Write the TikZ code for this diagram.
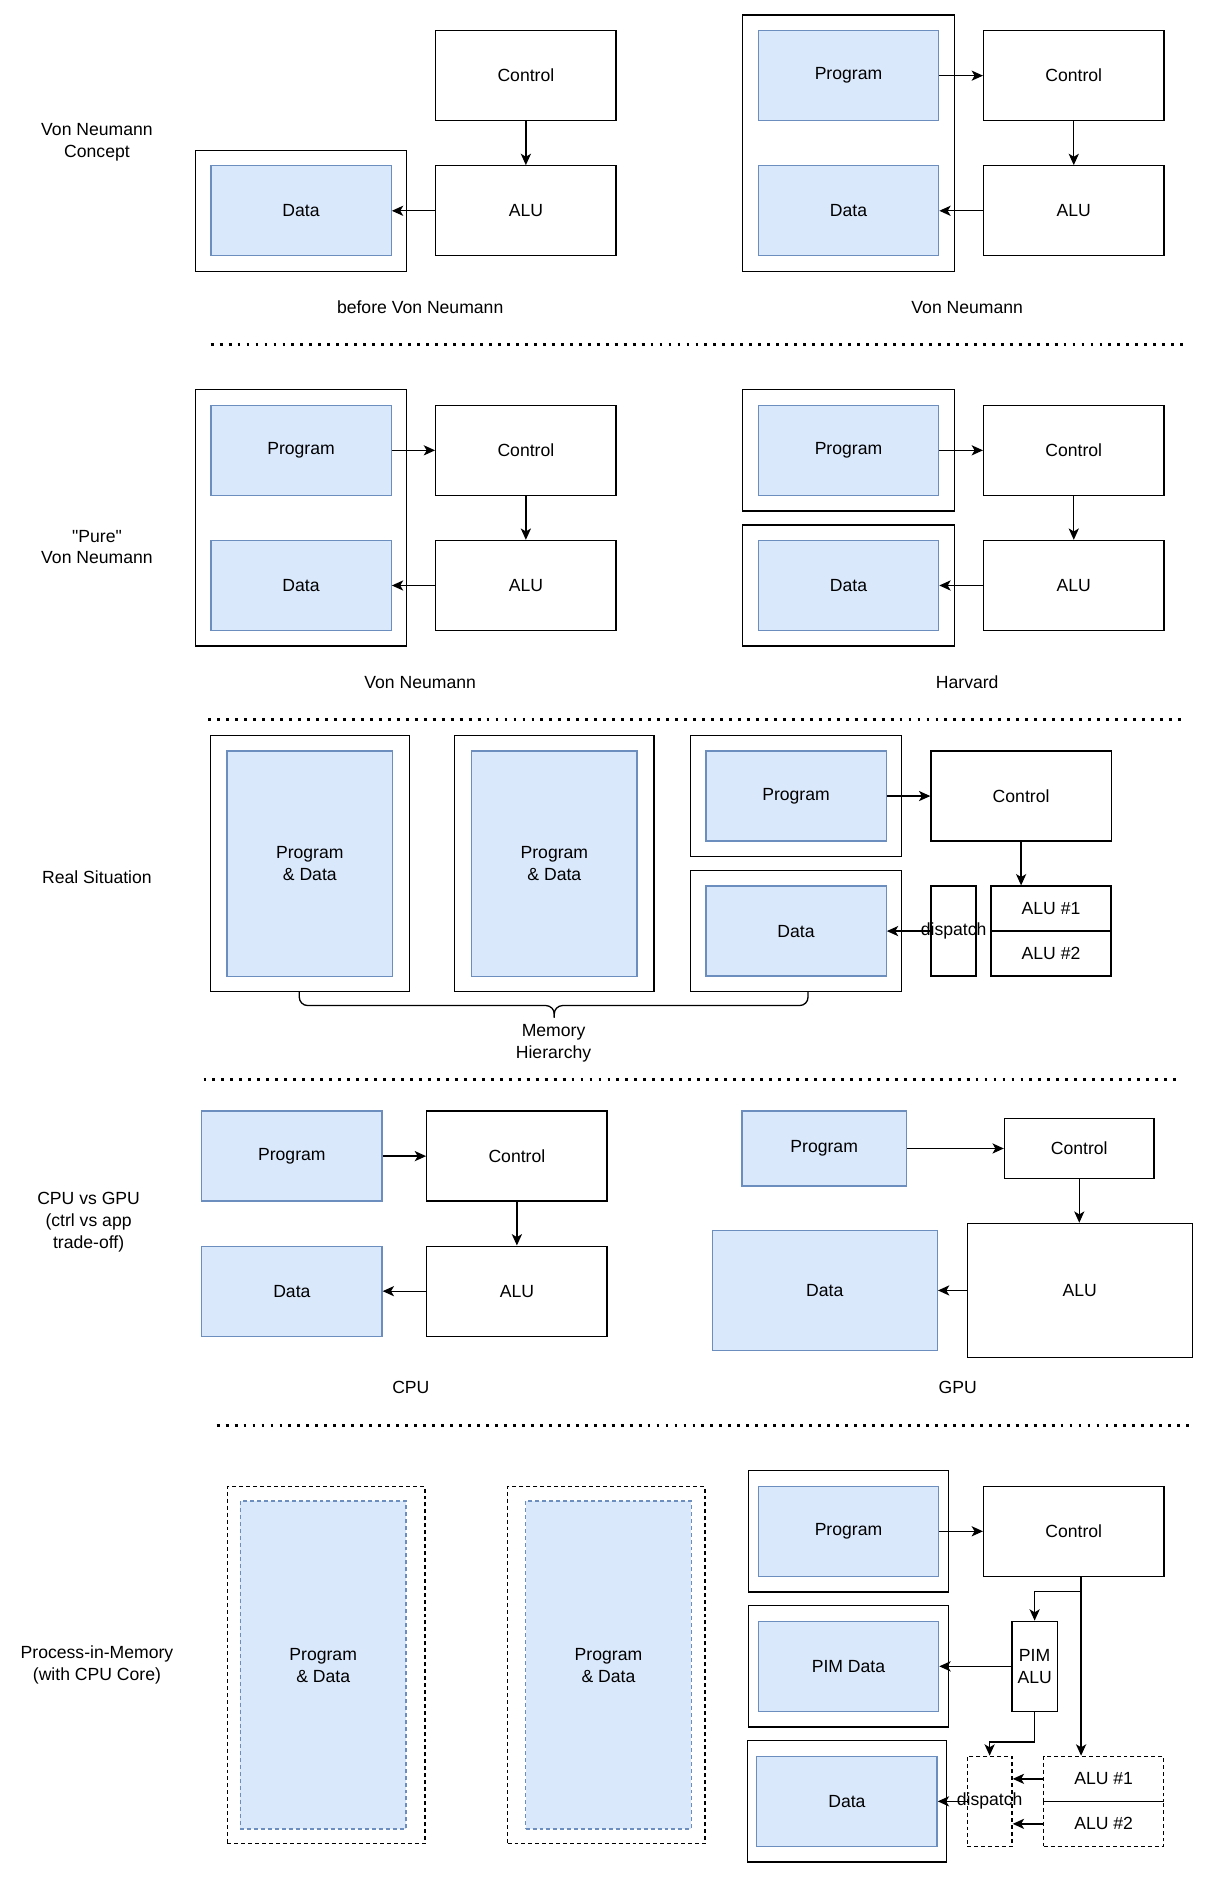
\documentclass[tikz,border=0pt]{standalone}
\usepackage{fontspec}
\setmainfont{Liberation Sans}[Ligatures=TeXOff]
\usetikzlibrary{arrows.meta,fit}
\definecolor{memfill}{HTML}{DAE8FC}
\definecolor{memline}{HTML}{6C8EBF}

\begin{document}
\begin{tikzpicture}[x=1pt,y=-1pt,
        font=\fontsize{14.7}{18.3}\selectfont,
        blk/.style={draw, line width=1.1pt, minimum width=150.6pt, minimum height=75.2pt, inner sep=0pt, align=center},
        mem/.style={blk, draw=memline, fill=memfill},
        memframe/.style={draw, line width=1.1pt, inner xsep=12.5pt, inner ysep=12.5pt},
        dsh/.style={dash pattern=on 3.3pt off 2.5pt},
        arr/.style={-{Stealth[length=9.5pt,width=8.5pt,inset=2.5pt]}, line width=1.1pt},
        sepline/.style={line width=2.4pt, dash pattern=on 2.4pt off 5.1pt},
        txt/.style={align=center, inner sep=0pt}]
    \useasboundingbox (0,0) rectangle (1012,1568);

    % von neumann concept
    \begin{scope}
        \node[txt] (lbl1) at (81,119) {Von Neumann\\Concept};
        \node[mem] (data1) at (251.5,176.1) {Data};
        \node[memframe, fit=(data1)] (mem1) {};
        \node[blk] (ctl1) at (439.3,63.2) {Control};
        \node[blk] (alu1) at (439.3,176.1) {ALU};
        \draw[arr] (ctl1) -- (alu1);
        \draw[arr] (alu1) -- (data1);
        \node[txt] (cap1) at (351,257) {before Von Neumann};

        \node[mem] (prog2) at (708.8,63.2) {Program};
        \node[mem] (data2) at (708.8,176.1) {Data};
        \node[memframe, fit=(prog2)(data2)] (mem2) {};
        \node[blk] (ctl2) at (897,63.2) {Control};
        \node[blk] (alu2) at (897,176.1) {ALU};
        \draw[arr] (prog2) -- (ctl2);
        \draw[arr] (ctl2) -- (alu2);
        \draw[arr] (alu2) -- (data2);
        \node[txt] (cap2) at (808,257) {Von Neumann};
    \end{scope}
    \draw[sepline] (176,288) -- (992,288);

    % pure von neumann vs harvard
    \begin{scope}
        \node[txt] (lbl2) at (81,457) {"Pure"\\Von Neumann};
        \node[mem] (prog3) at (251.5,376.2) {Program};
        \node[mem] (data3) at (251.5,489.1) {Data};
        \node[memframe, fit=(prog3)(data3)] (mem3) {};
        \node[blk] (ctl3) at (439.3,376.2) {Control};
        \node[blk] (alu3) at (439.3,489.1) {ALU};
        \draw[arr] (prog3) -- (ctl3);
        \draw[arr] (ctl3) -- (alu3);
        \draw[arr] (alu3) -- (data3);
        \node[txt] (cap3) at (351,570) {Von Neumann};

        \node[mem] (prog4) at (708.8,376.2) {Program};
        \node[memframe, fit=(prog4)] (mem4p) {};
        \node[mem] (data4) at (708.8,489.1) {Data};
        \node[memframe, fit=(data4)] (mem4d) {};
        \node[blk] (ctl4) at (897,376.2) {Control};
        \node[blk] (alu4) at (897,489.1) {ALU};
        \draw[arr] (prog4) -- (ctl4);
        \draw[arr] (ctl4) -- (alu4);
        \draw[arr] (alu4) -- (data4);
        \node[txt] (cap4) at (808,570) {Harvard};
    \end{scope}
    \draw[sepline] (174,601) -- (990,601);

    % real situation
    \begin{scope}
        \node[txt] (lbl5) at (81,733) {Real Situation};
        \node[mem, minimum width=138.2pt, minimum height=188.1pt] (pd1) at (258.8,721.4) {Program\\\& Data};
        \node[memframe, inner xsep=13.5pt, fit=(pd1)] (lvl1) {};
        \node[mem, minimum width=138.2pt, minimum height=188.1pt] (pd2) at (463.1,721.4) {Program\\\& Data};
        \node[memframe, inner xsep=13.5pt, fit=(pd2)] (lvl2) {};

        \node[mem] (prog5) at (665,665) {Program};
        \node[memframe, fit=(prog5)] (mem5p) {};
        \node[mem] (data5) at (665,777.8) {Data};
        \node[memframe, fit=(data5)] (mem5d) {};
        \node[blk] (ctl5) at (853,665) {Control};
        \node[blk, minimum width=37.6pt] (disp5) at (796.6,777.8) {};
        \node[blk, minimum width=100.3pt, minimum height=37.6pt] (alu5a) at (878,759) {ALU \#1};
        \node[blk, minimum width=100.3pt, minimum height=37.6pt] (alu5b) at (878,796.6) {ALU \#2};
        \draw[arr] (prog5) -- (ctl5);
        \draw[arr] (ctl5) -- (ctl5 |- alu5a.north);
        \draw[arr] (disp5) -- (data5);
        \node[txt] (disp5t) at (disp5) {dispatch};

        \draw[line width=1.1pt, rounded corners=7pt] (250,828) |- (463,840) -- (463,850);
        \draw[line width=1.1pt, rounded corners=7pt] (675,828) |- (463,840) -- (463,850);
        \node[txt] (memh) at (462.4,871.8) {Memory\\Hierarchy};
    \end{scope}
    \draw[sepline] (170,902) -- (985,902);

    % cpu vs gpu
    \begin{scope}
        \node[txt] (lbl6) at (74,1021) {CPU vs GPU\\(ctrl vs app\\trade-off)};
        \node[mem] (prog6) at (243.8,965.8) {Program};
        \node[mem] (data6) at (243.8,1078.6) {Data};
        \node[blk] (ctl6) at (431.8,965.8) {Control};
        \node[blk] (alu6) at (431.8,1078.6) {ALU};
        \draw[arr] (prog6) -- (ctl6);
        \draw[arr] (ctl6) -- (alu6);
        \draw[arr] (alu6) -- (data6);
        \node[txt] (cap6) at (343.2,1159) {CPU};

        \node[mem, minimum width=137.5pt, minimum height=62.5pt] (prog7) at (688.5,959.4) {Program};
        \node[blk, minimum width=125pt, minimum height=50pt] (ctl7) at (901.6,959.4) {Control};
        \node[mem, minimum width=188pt, minimum height=100pt] (data7) at (689,1078) {Data};
        \node[blk, minimum width=188pt, minimum height=112pt] (alu7) at (902,1078) {ALU};
        \draw[arr] (prog7) -- (ctl7);
        \draw[arr] (ctl7) -- (ctl7 |- alu7.north);
        \draw[arr] (alu7) -- (data7);
        \node[txt] (cap7) at (800,1159) {GPU};
    \end{scope}
    \draw[sepline] (181,1191) -- (997,1191);

    % process in memory
    \begin{scope}
        \node[txt] (lbl8) at (81,1391) {Process-in-Memory\\(with CPU Core)};
        \node[mem, dsh, minimum width=138.4pt, minimum height=274pt] (pd3) at (270,1391) {Program\\\& Data};
        \node[blk, dsh, minimum width=165pt, minimum height=298pt] (lvl3) at (272.5,1391) {};
        \node[mem, dsh, minimum width=138.4pt, minimum height=274pt] (pd4) at (508.3,1391) {Program\\\& Data};
        \node[blk, dsh, minimum width=165pt, minimum height=298pt] (lvl4) at (506.5,1391) {};

        \node[mem] (prog8) at (708.8,1279.2) {Program};
        \node[memframe, inner xsep=7.5pt, fit=(prog8)] (mem8p) {};
        \node[mem] (pim8) at (708.8,1392) {PIM Data};
        \node[memframe, inner xsep=7.5pt, fit=(pim8)] (mem8m) {};
        \node[mem] (data8) at (707.5,1504.8) {Data};
        \node[memframe, inner xsep=7.5pt, fit=(data8)] (mem8d) {};
        \node[blk] (ctl8) at (897,1279.2) {Control};
        \node[blk, minimum width=37.7pt] (palu8) at (864.3,1392) {PIM\\ALU};
        \node[blk, dsh, minimum width=37.5pt] (disp8) at (826.7,1504.8) {};
        \node[blk, dsh, minimum width=100.3pt, minimum height=37.6pt] (alu8a) at (922,1486) {ALU \#1};
        \node[blk, dsh, minimum width=100.3pt, minimum height=37.6pt] (alu8b) at (922,1523.6) {ALU \#2};
        \coordinate (split8) at (903.1,1329.3);
        \draw[arr] (prog8) -- (ctl8);
        \draw[line width=1.1pt] (ctl8.south -| split8) -- (split8);
        \draw[arr] (split8) -- (split8 |- alu8a.north);
        \draw[arr] (split8) -| (palu8.north);
        \draw[arr] (palu8) -- (pim8);
        \draw[arr] (palu8.south) -- ++(0,25) -| (disp8.north);
        \draw[arr] (alu8a) -- (alu8a -| disp8.east);
        \draw[arr] (alu8b) -- (alu8b -| disp8.east);
        \draw[arr] (disp8) -- (data8);
        \node[txt] (disp8t) at (disp8) {dispatch};
    \end{scope}
\end{tikzpicture}
\end{document}
